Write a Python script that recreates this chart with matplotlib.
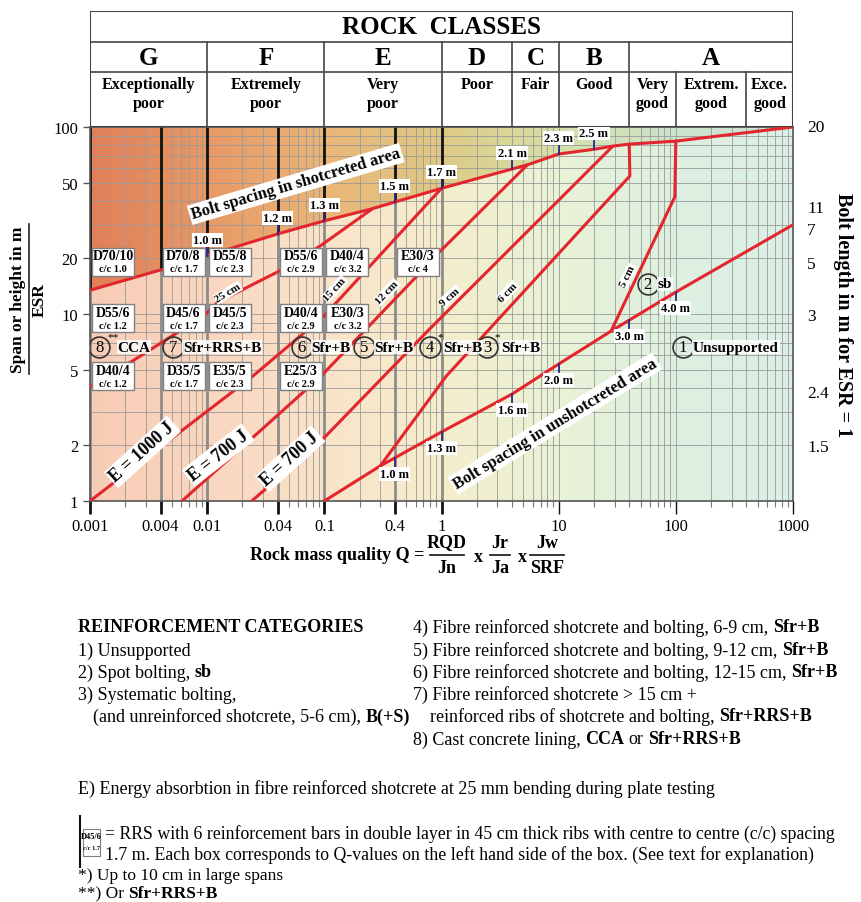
import numpy as np
import matplotlib.pyplot as plt
from matplotlib.patches import Rectangle, Polygon
from matplotlib.ticker import NullFormatter, LogLocator

plt.rcParams['font.family'] = ['Liberation Serif', 'DejaVu Serif']

# ---- data ----
q_ticks = [0.001, 0.004, 0.01, 0.04, 0.1, 0.4, 1, 10, 100, 1000]
q_tick_labels = ['0.001', '0.004', '0.01', '0.04', '0.1', '0.4', '1', '10', '100', '1000']
span_ticks = [1, 2, 5, 10, 20, 50, 100]
bolt_len_span = [100, 37, 28, 18.5, 9.8, 3.8, 1.95]
bolt_len_labels = ['20', '11', '7', '5', '3', '2.4', '1.5']

class_letters = ['G', 'F', 'E', 'D', 'C', 'B', 'A']
class_edges = [0.001, 0.01, 0.1, 1, 4, 10, 40, 1000]
quality_names = ['Exceptionally\npoor', 'Extremely\npoor', 'Very\npoor', 'Poor', 'Fair',
                 'Good', 'Very\ngood', 'Extrem.\ngood', 'Exce.\ngood']
quality_edges = [0.001, 0.01, 0.1, 1, 4, 10, 40, 100, 400, 1000]

# bolt spacing in shotcreted area (upper line)
upper_q = [0.001, 0.004, 0.01, 0.04, 0.1, 0.25, 0.4, 1, 4, 5.4, 10, 20, 29, 40, 100, 1000]
upper_span = [13.4, 17.2, 20.5, 26.8, 31.5, 36.4, 39.7, 47, 59.6, 62.7, 71.7, 76, 79, 81, 84, 100]
upper_spacing_q = [0.01, 0.04, 0.1, 0.4, 1, 4, 10, 20]
upper_spacing = ['1.0 m', '1.2 m', '1.3 m', '1.5 m', '1.7 m', '2.1 m', '2.3 m', '2.5 m']

# bolt spacing in unshotcreted area (lower line)
lower_q = [0.1, 0.3, 1, 4, 10, 28, 100, 1000]
lower_span = [1, 1.54, 2.34, 3.73, 5.4, 8.1, 13.1, 30]
lower_spacing_q = [0.4, 1, 4, 10, 40, 100]
lower_spacing = ['1.0 m', '1.3 m', '1.6 m', '2.0 m', '3.0 m', '4.0 m']

# category boundaries
b87_q = [0.001, 0.0023, 0.0053, 0.0096, 0.0124, 0.04, 0.092, 0.255]
b87_span = [4.1, 5.6, 7.8, 9.9, 11.6, 16.8, 23.1, 36.4]
b76_q = [0.001, 0.024, 0.1, 1]
b76_span = [1, 4.6, 9.8, 47]
b65_q = [0.0061, 0.092, 0.62, 0.92, 5.4]
b65_span = [1, 4.6, 16, 20.9, 62.7]
b54_q = [0.024, 0.092, 0.79, 29]
b54_span = [1, 2.07, 8.3, 79]
b43_q = [0.3, 1.1, 40.5, 40]
b43_span = [1.54, 4.66, 54.7, 81]
b32_q = [28, 98, 100]
b32_span = [8.1, 42.3, 84]

# RRS boxes
box_q = [0.001, 0.004, 0.01, 0.04, 0.1, 0.4,
         0.001, 0.004, 0.01, 0.04, 0.1,
         0.001, 0.004, 0.01, 0.04]
box_span = [19] * 6 + [9.5] * 5 + [4.66] * 4
box_top = ['D70/10', 'D70/8', 'D55/8', 'D55/6', 'D40/4', 'E30/3',
           'D55/6', 'D45/6', 'D45/5', 'D40/4', 'E30/3',
           'D40/4', 'D35/5', 'E35/5', 'E25/3']
box_cc = ['c/c 1.0', 'c/c 1.7', 'c/c 2.3', 'c/c 2.9', 'c/c 3.2', 'c/c 4',
          'c/c 1.2', 'c/c 1.7', 'c/c 2.3', 'c/c 2.9', 'c/c 3.2',
          'c/c 1.2', 'c/c 1.7', 'c/c 2.3', 'c/c 2.9']

# support categories
cat_num = ['1', '2', '3', '4', '5', '6', '7', '8']
cat_q = [115, 57.7, 2.44, 0.79, 0.22, 0.064, 0.0051, 0.0012]
cat_span = [6.66, 14.5, 6.66, 6.66, 6.66, 6.66, 6.66, 6.66]
cat_text = ['Unsupported', 'sb', 'Sfr+B', 'Sfr+B', 'Sfr+B', 'Sfr+B', 'Sfr+RRS+B', 'CCA']
cat_star = ['', '', '*', '*', '', '', '', '**']

# line labels
line_lab = ['E = 1000 J', 'E = 700 J', 'E = 700 J', 'Bolt spacing in shotcreted area',
            'Bolt spacing in unshotcreted area']
line_lab_q = [0.0028, 0.0124, 0.051, 0.057, 9.3]
line_lab_span = [1.83, 1.76, 1.68, 49.6, 2.6]
line_lab_rot = [42, 38, 42, 16.5, 31.5]
thick_lab = ['25 cm', '15 cm', '12 cm', '9 cm', '6 cm', '5 cm']
thick_q = [0.015, 0.123, 0.343, 1.18, 3.68, 39]
thick_span = [13, 13.6, 13.1, 12.4, 13.1, 16]
thick_rot = [31, 47, 46, 41, 46, 64]

W, H = 861, 903
RED = '#e3262e'
fig = plt.figure(figsize=(W / 100, H / 100), dpi=100)


def frect(x0, y0, x1, y1):
    return [x0 / W, 1 - y1 / H, (x1 - x0) / W, (y1 - y0) / H]


def interp_log(q, qs, ss):
    return 10 ** np.interp(np.log10(q), np.log10(qs), np.log10(ss))


ax = fig.add_axes(frect(90, 128, 793, 502))
ax.set_xscale('log')
ax.set_yscale('log')
ax.set_xlim(0.001, 1000)
ax.set_ylim(1, 100)

# background gradients
t = np.linspace(0, 1, 400)
up_stops = np.array([[0.88, 0.50, 0.35], [0.91, 0.60, 0.40], [0.92, 0.71, 0.47],
                     [0.87, 0.79, 0.52], [0.84, 0.88, 0.66], [0.80, 0.89, 0.80], [0.80, 0.90, 0.84]])
lo_stops = np.array([[0.97, 0.80, 0.71], [0.98, 0.84, 0.75], [0.98, 0.89, 0.79],
                     [0.96, 0.93, 0.80], [0.91, 0.95, 0.84], [0.87, 0.94, 0.88], [0.86, 0.94, 0.90]])
pos = np.linspace(0, 1, 7)


def grad(stops):
    img = np.stack([np.interp(t, pos, stops[:, c]) for c in range(3)], axis=-1)
    return img[np.newaxis, :, :]


ax.imshow(grad(lo_stops), extent=[0, 1, 0, 1], transform=ax.transAxes, aspect='auto', zorder=0)
im_up = ax.imshow(grad(up_stops), extent=[0, 1, 0, 1], transform=ax.transAxes, aspect='auto', zorder=0)
clip = Polygon(list(zip(upper_q, upper_span)) + [(1000, 100), (0.001, 100)], closed=True,
               transform=ax.transData, fc='none', ec='none')
ax.add_patch(clip)
im_up.set_clip_path(clip)

ax.xaxis.set_minor_locator(LogLocator(base=10, subs=np.arange(2, 10), numticks=20))
ax.yaxis.set_minor_locator(LogLocator(base=10, subs=np.arange(2, 10), numticks=20))
ax.grid(which='both', color='#9a9a9a', lw=0.6)

# heavy verticals
for q in q_ticks[:7]:
    u = interp_log(q, upper_q, upper_span)
    ax.plot([q, q], [u, 100], color='#111111', lw=2, zorder=1.6)
    ax.plot([q, q], [1, u], color='#8c8c8c', lw=2, zorder=1.6)

# red lines
for qs, ss in [(upper_q, upper_span), (lower_q, lower_span), (b87_q, b87_span),
               (b76_q, b76_span), (b65_q, b65_span), (b54_q, b54_span),
               (b43_q, b43_span), (b32_q, b32_span)]:
    ax.plot(qs, ss, color=RED, lw=2.2, zorder=3, solid_capstyle='round')

# bolt spacing marks
for q, lab in zip(upper_spacing_q, upper_spacing):
    u = interp_log(q, upper_q, upper_span)
    ax.plot([q, q], [u, u * 10 ** (8 / 187)], color='#2a2a8a', lw=1.3, zorder=4)
    ax.text(q, u * 10 ** (16 / 187), lab, ha='center', va='center', fontsize=9, fontweight='bold',
            zorder=6, bbox=dict(fc='white', ec='none', pad=0.8))
for q, lab in zip(lower_spacing_q, lower_spacing):
    u = interp_log(q, lower_q, lower_span)
    ax.plot([q, q], [u, u * 10 ** (-8 / 187)], color='#2a2a8a', lw=1.3, zorder=4)
    ax.text(q, u * 10 ** (-16 / 187), lab, ha='center', va='center', fontsize=9, fontweight='bold',
            zorder=6, bbox=dict(fc='white', ec='none', pad=0.8))

# RRS boxes
for q, s, top, cc in zip(box_q, box_span, box_top, box_cc):
    x0 = q * 10 ** (2 / 117.2)
    x1 = q * 10 ** (44 / 117.2)
    y0 = s * 10 ** (-14 / 187)
    y1 = s * 10 ** (14 / 187)
    ax.add_patch(Rectangle((x0, y0), x1 - x0, y1 - y0, fc='white', ec='#808080', lw=1, zorder=5))
    xc = np.sqrt(x0 * x1)
    ax.text(xc, s * 10 ** (6 / 187), top, ha='center', va='center', fontsize=10, fontweight='bold', zorder=6)
    ax.text(xc, s * 10 ** (-7 / 187), cc, ha='center', va='center', fontsize=7.5, fontweight='bold', zorder=6)

# category markers
for n, q, s, lab, st in zip(cat_num, cat_q, cat_span, cat_text, cat_star):
    ax.plot(q, s, 'o', ms=15, mfc='none', mec='#333333', mew=1.2, zorder=6)
    ax.text(q, s, n, ha='center', va='center', fontsize=12, zorder=7)
    ax.annotate(lab, (q, s), xytext=(10 + 4 * len(st), 0), textcoords='offset pixels', ha='left',
                va='center', fontsize=11, fontweight='bold', zorder=7,
                bbox=dict(fc='white', ec='none', pad=0.5, alpha=0.85))
    if st:
        ax.annotate(st, (q, s), xytext=(8, 10), textcoords='offset pixels', ha='left', va='center',
                    fontsize=8, zorder=8)

for lab, q, s, r in zip(line_lab, line_lab_q, line_lab_span, line_lab_rot):
    ax.text(q, s, lab, rotation=r, ha='center', va='center', fontsize=13 if 'E =' in lab else 12,
            fontweight='bold', zorder=6, rotation_mode='anchor',
            bbox=dict(fc='white', ec='none', pad=1.5))
for lab, q, s, r in zip(thick_lab, thick_q, thick_span, thick_rot):
    ax.text(q, s, lab, rotation=r, ha='center', va='center', fontsize=8, fontweight='bold', zorder=6,
            rotation_mode='anchor', bbox=dict(fc='white', ec='none', pad=0.6))

# axes styling
ax.set_xticks(q_ticks)
ax.set_xticklabels(q_tick_labels)
ax.xaxis.set_minor_formatter(NullFormatter())
ax.set_yticks(span_ticks)
ax.set_yticklabels([str(v) for v in span_ticks])
ax.yaxis.set_minor_formatter(NullFormatter())
ax.tick_params(axis='x', which='major', length=9, width=2, color='#111111', labelsize=12, pad=3)
ax.tick_params(axis='x', which='minor', length=4, width=0.8, color='#777777')
ax.tick_params(axis='y', which='major', length=5, width=1, color='#555555', labelsize=12)
ax.tick_params(axis='y', which='minor', length=0)
for tk in ax.xaxis.get_major_ticks()[7:]:
    tk.tick1line.set_markeredgewidth(1)
    tk.tick1line.set_color('#777777')
for sp in ax.spines.values():
    sp.set_color('#555555')
    sp.set_linewidth(1.2)

# right-hand bolt length labels
for s, lab in zip(bolt_len_span, bolt_len_labels):
    ax.text(1.02, s, lab, transform=ax.get_yaxis_transform(), ha='left', va='center', fontsize=12.5)
fig.text(843 / W, 1 - 315 / H, 'Bolt length in m for ESR = 1', rotation=-90, ha='center', va='center',
         fontsize=14.5, fontweight='bold')

# left axis label (fraction)
fig.text(18 / W, 1 - 300 / H, 'Span or height in m', rotation=90, ha='center', va='center',
         fontsize=12.5, fontweight='bold')
fig.add_artist(plt.Line2D([29 / W, 29 / W], [1 - 225 / H, 1 - 375 / H], color='#222222', lw=1.2))
fig.text(40 / W, 1 - 300 / H, 'ESR', rotation=90, ha='center', va='center', fontsize=12.5, fontweight='bold')

# x label with fractions
fig.text(424 / W, 1 - 556 / H, 'Rock mass quality Q =', ha='right', va='center', fontsize=13,
         fontweight='bold')
for xc, num, den in [(447, 'RQD', 'Jn'), (500, 'Jr', 'Ja'), (547, 'Jw', 'SRF')]:
    fig.text(xc / W, 1 - 543 / H, num, ha='center', va='center', fontsize=13, fontweight='bold')
    fig.text(xc / W, 1 - 569 / H, den, ha='center', va='center', fontsize=13, fontweight='bold')
    hw = 17 if len(num) > 2 or len(den) > 2 else 10
    fig.add_artist(plt.Line2D([(xc - hw) / W, (xc + hw) / W], [1 - 555.5 / H, 1 - 555.5 / H],
                              color='#111111', lw=1.2))
fig.text(478 / W, 1 - 558 / H, 'x', ha='center', va='center', fontsize=13, fontweight='bold')
fig.text(522 / W, 1 - 558 / H, 'x', ha='center', va='center', fontsize=13, fontweight='bold')

# header table
axh = fig.add_axes(frect(90, 12, 793, 128))
axh.set_xscale('log')
axh.set_xlim(0.001, 1000)
axh.set_ylim(116, 0)
axh.axis('off')
lc = '#444444'
axh.add_patch(Rectangle((0.001, 0), 1000 - 0.001, 116, fc='white', ec=lc, lw=1.5))
axh.plot([0.001, 1000], [31, 31], color=lc, lw=1.2)
axh.plot([0.001, 1000], [61, 61], color=lc, lw=1.2)
for e in class_edges[1:-1]:
    axh.plot([e, e], [31, 116], color=lc, lw=1.2)
for e in quality_edges[7:9]:
    axh.plot([e, e], [61, 116], color=lc, lw=1.2)
axh.text(1, 16, 'ROCK  CLASSES', ha='center', va='center', fontsize=18, fontweight='bold')
for i, lab in enumerate(class_letters):
    xc = np.sqrt(class_edges[i] * class_edges[i + 1])
    axh.text(xc, 46.5, lab, ha='center', va='center', fontsize=18, fontweight='bold')
for i, lab in enumerate(quality_names):
    xc = np.sqrt(quality_edges[i] * quality_edges[i + 1])
    axh.text(xc, 65, lab, ha='center', va='top', fontsize=11.5, fontweight='bold', linespacing=1.25)

# notes below the chart
renderer = fig.canvas.get_renderer()


def rich(x, y, parts, size=13):
    sp = 0.25 * size * 100 / 72
    for s, b in parts:
        x += (len(s) - len(s.lstrip(' '))) * sp
        core = s.strip(' ')
        tx = fig.text(x / W, 1 - y / H, core, fontsize=size, fontweight='bold' if b else 'normal',
                      ha='left', va='center')
        x += tx.get_window_extent(renderer).width
        x += (len(s) - len(s.rstrip(' '))) * sp


rich(78, 628, [('REINFORCEMENT CATEGORIES', True)])
rich(78, 651, [('1) Unsupported', False)])
rich(78, 673, [('2) Spot bolting, ', False), ('sb', True)])
rich(78, 695, [('3) Systematic bolting,', False)])
rich(93, 717, [('(and unreinforced shotcrete, 5-6 cm), ', False), ('B(+S)', True)])
rich(413, 628, [('4) Fibre reinforced shotcrete and bolting, 6-9 cm, ', False), ('Sfr+B', True)])
rich(413, 651, [('5) Fibre reinforced shotcrete and bolting, 9-12 cm, ', False), ('Sfr+B', True)])
rich(413, 673, [('6) Fibre reinforced shotcrete and bolting, 12-15 cm, ', False), ('Sfr+B', True)])
rich(413, 695, [('7) Fibre reinforced shotcrete > 15 cm +', False)])
rich(430, 717, [('reinforced ribs of shotcrete and bolting, ', False), ('Sfr+RRS+B', True)])
rich(413, 740, [('8) Cast concrete lining, ', False), ('CCA', True), (' or ', False), ('Sfr+RRS+B', True)])
rich(78, 789, [('E) Energy absorbtion in fibre reinforced shotcrete at 25 mm bending during plate testing', False)])
rich(105, 834, [('= RRS with 6 reinforcement bars in double layer in 45 cm thick ribs with centre to centre (c/c) spacing', False)], 12.8)
rich(105, 855, [('1.7 m. Each box corresponds to Q-values on the left hand side of the box. (See text for explanation)', False)], 12.8)
rich(78, 876, [('*) Up to 10 cm in large spans', False)], 12.5)
rich(78, 894, [('**) Or ', False), ('Sfr+RRS+B', True)], 12.5)

fig.add_artist(plt.Line2D([80 / W, 80 / W], [1 - 817 / H, 1 - 868 / H], color='#111111', lw=1.5))
fig.add_artist(Rectangle((83 / W, 1 - 857 / H), 17 / W, 27 / H, fc='white', ec='#808080', lw=0.8,
                         transform=fig.transFigure))
fig.text(91.5 / W, 1 - 837 / H, 'D45/6', ha='center', va='center', fontsize=6, fontweight='bold')
fig.text(91.5 / W, 1 - 849 / H, 'c/c 1.7', ha='center', va='center', fontsize=4.5, fontweight='bold')

fig.savefig('out.png', dpi=100, facecolor='white')
